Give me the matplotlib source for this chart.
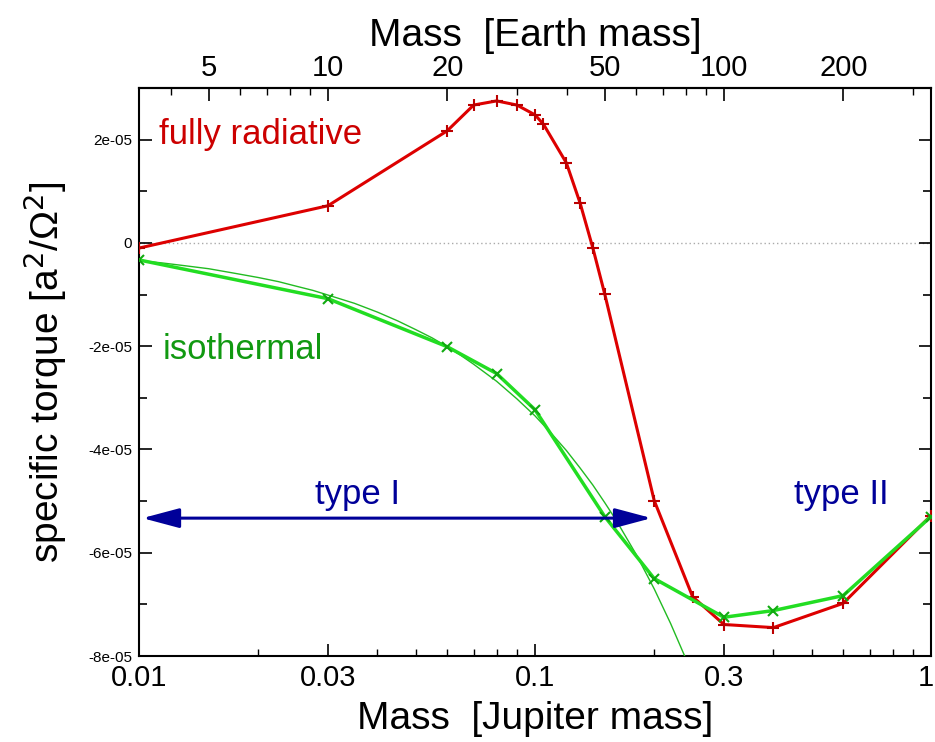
import matplotlib
matplotlib.use("Agg")

import matplotlib.pyplot as plt
import matplotlib.transforms as mtransforms
from matplotlib.ticker import FixedLocator, FixedFormatter, NullFormatter

plt.rcParams["font.family"] = ["Liberation Sans", "DejaVu Sans"]

# masses in Jupiter masses, torque in a^2/Omega^2
rad_mass = [0.01, 0.03, 0.06, 0.07, 0.08, 0.09, 0.1, 0.105, 0.12, 0.13,
            0.14, 0.15, 0.2, 0.25, 0.3, 0.4, 0.6, 1.0]
rad_torque = [-0.1e-5, 0.72e-5, 2.17e-5, 2.67e-5, 2.75e-5, 2.67e-5, 2.48e-5,
              2.30e-5, 1.55e-5, 0.77e-5, -0.1e-5, -0.99e-5, -4.99e-5,
              -6.85e-5, -7.39e-5, -7.45e-5, -6.98e-5, -5.28e-5]

iso_mass = [0.01, 0.03, 0.06, 0.08, 0.1, 0.15, 0.2, 0.3, 0.4, 0.6, 1.0]
iso_torque = [-0.33e-5, -1.08e-5, -2.01e-5, -2.53e-5, -3.23e-5, -5.3e-5,
              -6.5e-5, -7.25e-5, -7.12e-5, -6.83e-5, -5.3e-5]

# thin linear (type I) fit
fit_mass = [0.01, 0.0115, 0.013, 0.015, 0.0175, 0.02, 0.0225, 0.025, 0.0275,
            0.03, 0.035, 0.04, 0.045, 0.05, 0.055, 0.06, 0.065, 0.07, 0.08,
            0.09, 0.1, 0.11, 0.12, 0.13, 0.14, 0.15, 0.16, 0.18, 0.2, 0.22,
            0.24, 0.26]
fit_torque = [-0.34e-5, -0.39e-5, -0.44e-5, -0.5e-5, -0.59e-5, -0.67e-5,
              -0.75e-5, -0.84e-5, -0.92e-5, -1.01e-5, -1.17e-5, -1.34e-5,
              -1.51e-5, -1.68e-5, -1.84e-5, -2.01e-5, -2.18e-5, -2.35e-5,
              -2.68e-5, -3.02e-5, -3.35e-5, -3.69e-5, -4.02e-5, -4.36e-5,
              -4.69e-5, -5.03e-5, -5.36e-5, -6.03e-5, -6.7e-5, -7.37e-5,
              -8.04e-5, -8.71e-5]

earth_per_jupiter = 333.0
bottom_ticks = [0.01, 0.03, 0.1, 0.3, 1]
bottom_labels = ["0.01", "0.03", "0.1", "0.3", "1"]
top_ticks = [5, 10, 20, 50, 100, 200]
y_ticks = [2e-5, 0, -2e-5, -4e-5, -6e-5, -8e-5]
y_labels = ["2e-05", "0", "-2e-05", "-4e-05", "-6e-05", "-8e-05"]

RED = "#dd0000"
GREEN = "#22dd22"
NAVY = "#000099"

fig = plt.figure(figsize=(9.35, 7.42), dpi=100)
ax = fig.add_axes([0.1487, 0.1159, 0.8470, 0.7655])

ax.axhline(0, color="#aaaaaa", lw=1, ls=(0, (1, 2)), zorder=1)
ax.plot(rad_mass, rad_torque, color=RED, lw=2.2, marker="+", ms=9,
        mew=1.5, mec="#bb0000", zorder=3)
ax.plot(fit_mass, fit_torque, color="#22bb22", lw=1.0, zorder=4)
ax.plot(iso_mass, iso_torque, color=GREEN, lw=2.5, marker="x", ms=7,
        mew=1.5, mec="#11aa11", zorder=5)

ax.set_xscale("log")
ax.set_xlim(0.01, 1)
ax.set_ylim(-8e-5, 3e-5)

ax.xaxis.set_major_locator(FixedLocator(bottom_ticks))
ax.xaxis.set_major_formatter(FixedFormatter(bottom_labels))
minor_x = [m * d for d in (0.01, 0.1) for m in range(2, 10) if m * d not in bottom_ticks]
ax.xaxis.set_minor_locator(FixedLocator(minor_x))
ax.xaxis.set_minor_formatter(NullFormatter())
ax.yaxis.set_major_locator(FixedLocator(y_ticks))
ax.yaxis.set_major_formatter(FixedFormatter(y_labels))
ax.yaxis.set_minor_locator(FixedLocator([1e-5, -1e-5, -3e-5, -5e-5, -7e-5]))

ax.tick_params(axis="x", which="major", direction="in", length=9, width=1.2,
               labelsize=21, pad=6, top=False)
ax.tick_params(axis="x", which="minor", direction="in", length=5, width=1,
               top=False)
ax.tick_params(axis="y", which="both", direction="in", right=True, width=1.2,
               labelsize=11, pad=5)
ax.tick_params(axis="y", which="major", length=9)
ax.tick_params(axis="y", which="minor", length=6)
for s in ax.spines.values():
    s.set_linewidth(1.5)

top = ax.secondary_xaxis("top", functions=(lambda m: m * earth_per_jupiter,
                                           lambda e: e / earth_per_jupiter))
top.xaxis.set_major_locator(FixedLocator(top_ticks))
top.xaxis.set_major_formatter(FixedFormatter([str(t) for t in top_ticks]))
top_minor = [4, 6, 7, 8, 9, 30, 40, 60, 70, 80, 90, 300]
top.xaxis.set_minor_locator(FixedLocator(top_minor))
top.xaxis.set_minor_formatter(NullFormatter())
top.tick_params(which="major", direction="in", length=9, width=1.2,
                labelsize=21, pad=4)
top.tick_params(which="minor", direction="in", length=5, width=1)
top.spines["top"].set_linewidth(1.5)
top.set_xlabel("Mass  [Earth mass]", fontsize=28, labelpad=6)

ax.set_xlabel("Mass  [Jupiter mass]", fontsize=28, labelpad=6)
ax.set_ylabel("specific torque [a$^2$/\u03a9$^2$]", fontsize=28, labelpad=14)

# keep the "1" label inside the figure edge
fig.canvas.draw()
last = ax.get_xticklabels()[-1]
last.set_transform(last.get_transform() +
                   mtransforms.ScaledTranslation(-5 / 100, 0, fig.dpi_scale_trans))

ax.text(0.0112, 1.92e-5, "fully radiative", color="#cc0000", fontsize=25,
        va="baseline", ha="left")
ax.text(0.0115, -2.24e-5, "isothermal", color="#119911", fontsize=25,
        va="baseline", ha="left")
ax.text(0.0357, -5.05e-5, "type I", color=NAVY, fontsize=25,
        va="baseline", ha="center")
ax.text(0.594, -5.05e-5, "type II", color=NAVY, fontsize=25,
        va="baseline", ha="center")

ax.annotate("", xy=(0.0102, -5.33e-5), xytext=(0.197, -5.33e-5),
            arrowprops=dict(arrowstyle="<|-|>,head_length=1.5,head_width=0.4",
                            color=NAVY, lw=2.2, mutation_scale=15,
                            shrinkA=0, shrinkB=0), zorder=6)

fig.savefig("out.png", dpi=100)
